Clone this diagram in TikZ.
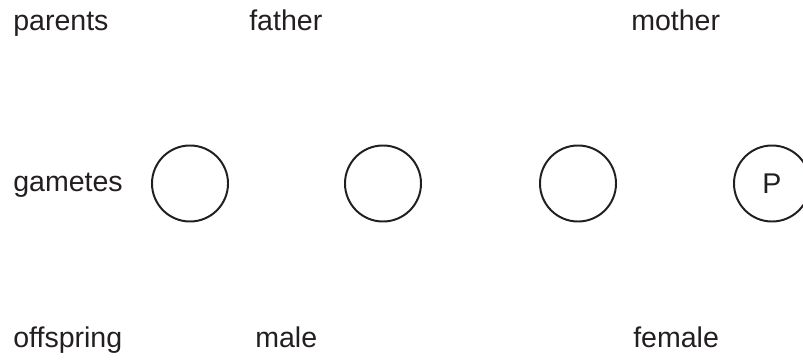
\documentclass[tikz,border=0pt]{standalone}
\usepackage{fontspec}
\setmainfont{Liberation Sans}
\usetikzlibrary{positioning}

\definecolor{ink}{RGB}{35,31,32}

\tikzset{
    label/.style={anchor=base west, inner sep=0pt, text=ink, font=\fontsize{20.3pt}{24pt}\selectfont},
    gamete/.style={draw=ink, circle, line width=1.4pt, minimum size=1.9cm, inner sep=0pt, text=ink, font=\fontsize{20.3pt}{24pt}\selectfont}
}

\begin{document}
\begin{tikzpicture}[x=0.025cm, y=-0.025cm]

        \useasboundingbox (0,0) rectangle (803,361);

        % row labels
        \node[label] (parents) at (13,31) {parents};
        \node[label] (gametes) at (13,191) {gametes};
        \node[label] (offspring) at (13,347) {offspring};

        % parents
        \node[label] (father) at (249,31) {father};
        \node[label] (mother) at (631,31) {mother};

        % gametes
        \node[gamete] (g1) at (190,183.5) {};
        \node[gamete] (g2) at (383,183.5) {};
        \node[gamete] (g3) at (578,183.5) {};
        \node[gamete] (g4) at (772,183.5) {P};

        % offspring
        \node[label] (male) at (255,347) {male};
        \node[label] (female) at (633,347) {female};

    \end{tikzpicture}
\end{document}
